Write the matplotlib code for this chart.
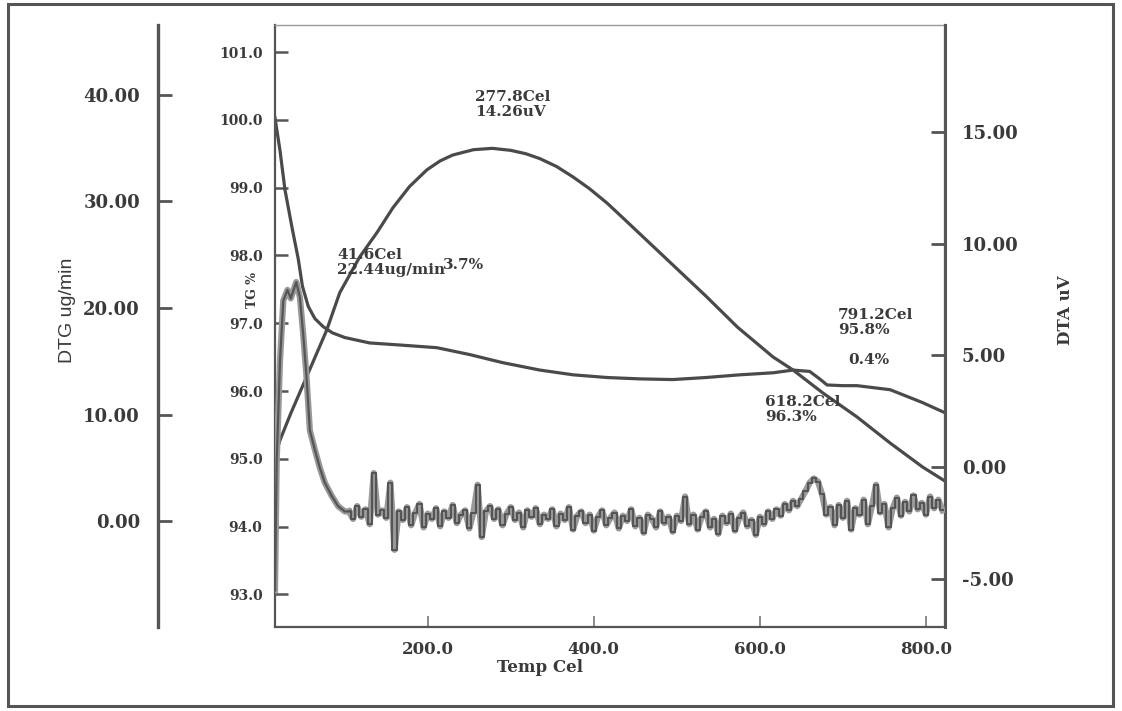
import numpy as np
import matplotlib
matplotlib.use("Agg")
import matplotlib.pyplot as plt
from matplotlib.patches import Rectangle

# TG (%) vs temperature
tg_temp = [16, 22, 28, 37, 44, 49, 56, 64, 74, 85, 100, 130, 166, 211, 250, 290, 335, 375,
           416, 455, 495, 535, 576, 616, 640, 660, 672, 681, 700, 717, 757, 796, 823]
tg = [100.03, 99.55, 98.97, 98.38, 97.95, 97.55, 97.25, 97.07, 96.95, 96.86, 96.79, 96.71,
      96.68, 96.64, 96.54, 96.42, 96.31, 96.24, 96.20, 96.18, 96.17, 96.20, 96.24, 96.27,
      96.31, 96.29, 96.18, 96.09, 96.08, 96.08, 96.02, 95.83, 95.68]

# DTA (uV)
dta_temp = [16, 22, 35, 49, 78, 94, 118, 139, 158, 178, 199, 215, 230, 255, 277.8, 300, 318,
            335, 355, 375, 395, 416, 435, 455, 495, 535, 573, 616, 640, 676, 717, 757, 796, 823]
dta = [0.5, 1.2, 2.4, 3.6, 6.1, 7.8, 9.4, 10.5, 11.6, 12.55, 13.3, 13.7, 13.96, 14.2, 14.26,
       14.17, 14.02, 13.8, 13.45, 12.98, 12.45, 11.81, 11.15, 10.45, 9.05, 7.65, 6.26, 4.92,
       4.34, 3.31, 2.24, 1.07, 0.0, -0.63]

# DTG (ug/min), peak part
dtg_rise_temp = [16, 18, 22, 26, 31, 35, 41.6, 46, 50, 54, 58, 64, 70, 76, 84, 92, 100, 105]
dtg_rise = [-6.5, 5.5, 15.0, 20.7, 21.7, 20.9, 22.44, 21.0, 17.5, 13.5, 8.5, 6.7, 5.0, 3.6,
            2.4, 1.4, 0.9, 0.9]

# DTG baseline, every 5 Cel from 105 to 820
dtg_base_temp = np.arange(105, 821, 5)
dtg_base = [0.9, 0.2, 1.4, 0.4, 1.1, -0.3, 4.5, 0.6, 1.0, 0.3,
            3.6, -2.7, 0.9, 0.1, 1.3, -0.4, 0.8, 1.6, -0.6, 0.7,
            0.2, 1.2, -0.5, 0.9, 0.3, 1.5, -0.2, 0.6, 1.0, -0.7,
            0.8, 3.4, -1.5, 0.9, 1.4, 0.2, 1.1, -0.4, 0.7, 1.3,
            0.1, 0.8, -0.6, 1.0, 0.4, 1.2, -0.3, 0.6, 0.2, 1.1,
            -0.5, 0.7, 0.1, 1.3, -0.8, 0.5, 0.9, -0.2, 0.6, -0.9,
            0.4, 1.0, -0.4, 0.3, 0.8, -0.7, 0.5, 0.0, 1.1, -0.5,
            0.3, -1.1, 0.6, 0.2, -0.6, 0.9, -0.2, 0.4, -1.0, 0.5,
            0.0, 2.3, -0.3, 0.6, -0.8, 0.4, 0.9, -0.6, 0.2, -1.2,
            0.5, -0.2, 0.7, -0.9, 0.3, 0.8, -0.5, 0.1, -1.3, 0.4,
            -0.3, 0.9, 0.2, 1.1, 0.5, 1.6, 1.0, 1.9, 1.4, 2.1,
            2.8, 3.6, 4.0, 3.7, 2.5, 0.6, 1.3, -0.4, 1.5, 0.3,
            1.9, -0.8, 1.2, 0.6, 2.0, -0.3, 1.4, 3.4, 0.8, 1.6,
            -0.6, 1.2, 2.2, 0.5, 1.8, 0.9, 2.4, 1.1, 1.7, 0.6,
            2.3, 1.2, 2.0, 1.0]

x_ticks = [200, 400, 600, 800]
x_ticklabels = ["200.0", "400.0", "600.0", "800.0"]
tg_ticks = [93, 94, 95, 96, 97, 98, 99, 100, 101]
dta_ticks = [-5, 0, 5, 10, 15]
dtg_ticks = [0, 10, 20, 30, 40]

notes = [("277.8Cel\n14.26uV", 475, 90),
         ("41.6Cel\n22.44ug/min", 337, 248),
         ("3.7%", 443, 258),
         ("791.2Cel\n95.8%", 838, 308),
         ("0.4%", 848, 353),
         ("618.2Cel\n96.3%", 765, 395)]

W, H = 1122, 711
line_c = "#4a4a4a"
text_c = "#3a3a3a"
serif = "DejaVu Serif"

fig = plt.figure(figsize=(W / 100, H / 100), dpi=100)
fig.patch.set_facecolor("white")

# outer frame
fig.add_artist(Rectangle((8 / W, 1 - 706 / H), 1105 / W, 702 / H, transform=fig.transFigure,
                         fill=False, edgecolor="#555555", lw=2.2))

ax = fig.add_axes([275 / W, 1 - 627 / H, 670 / W, 602 / H])
ax2 = ax.twinx()
ax3 = ax.twinx()

ax.set_xlim(16, 823)
ax.set_ylim(92.52, 101.40)
ax2.set_ylim(-7.16, 19.78)
ax3.set_ylim(-9.95, 46.57)

# curves: DTG drawn as a grey band with darker noisy trace on top
ax3.plot(dtg_rise_temp, dtg_rise, color="#999999", lw=4.5)
ax3.plot(dtg_base_temp, dtg_base, color="#9a9a9a", lw=4.5)
ax3.plot(dtg_rise_temp, dtg_rise, color="#555555", lw=1.6)
ax3.plot(dtg_base_temp, dtg_base, color="#555555", lw=1.5, drawstyle="steps-mid")
ax.plot(tg_temp, tg, color=line_c, lw=2.3)
ax2.plot(dta_temp, dta, color=line_c, lw=2.3)

# spines
for s in ax.spines.values():
    s.set_color("#555555")
    s.set_linewidth(1.6)
ax.spines["top"].set_linewidth(1.0)
ax.spines["top"].set_color("#9a9a9a")
for name in ["top", "bottom", "left"]:
    ax2.spines[name].set_visible(False)
ax2.spines["right"].set_color("#555555")
ax2.spines["right"].set_linewidth(2.2)
for name in ["top", "bottom", "right"]:
    ax3.spines[name].set_visible(False)
ax3.spines["left"].set_visible(True)
ax3.spines["left"].set_position(("axes", (158 - 275) / 670))
ax3.spines["left"].set_color("#555555")
ax3.spines["left"].set_linewidth(2.4)
ax3.yaxis.set_ticks_position("left")
ax3.yaxis.set_label_position("left")

# ticks
ax.set_xticks(x_ticks)
ax.set_xticklabels(x_ticklabels)
ax.tick_params(axis="x", direction="in", length=8, width=1.2, color="#777777", pad=10,
               labelsize=12, labelcolor=text_c, top=False)
ax.set_yticks(tg_ticks)
ax.set_yticklabels([f"{v:.1f}" for v in tg_ticks])
ax.tick_params(axis="y", direction="in", length=9, width=1.8, color="#555555", pad=9,
               labelsize=10, labelcolor=text_c, right=False)
ax2.set_yticks(dta_ticks)
ax2.set_yticklabels([f"{v:.2f}" for v in dta_ticks])
ax2.tick_params(axis="y", direction="in", length=10, width=2.0, color="#555555", pad=12,
                labelsize=13, labelcolor=text_c)
ax3.set_yticks(dtg_ticks)
ax3.set_yticklabels([f"{v:.2f}" for v in dtg_ticks])
ax3.tick_params(axis="y", direction="in", length=10, width=2.0, color="#555555", pad=13,
                labelsize=13, labelcolor=text_c)

for a in (ax, ax2, ax3):
    for lab in a.get_xticklabels() + a.get_yticklabels():
        lab.set_fontfamily(serif)
        lab.set_fontweight("bold")

# axis labels
fig.text(540 / W, 1 - 668 / H, "Temp Cel", ha="center", va="center", fontsize=12,
         fontfamily=serif, fontweight="bold", color=text_c)
fig.text(1065 / W, 1 - 310 / H, "DTA uV", ha="center", va="center", rotation=90,
         fontsize=12, fontfamily=serif, fontweight="bold", color=text_c)
fig.text(68 / W, 1 - 310 / H, "DTG ug/min", ha="center", va="center", rotation=90,
         fontsize=14, fontfamily="Liberation Sans", color=text_c)
fig.text(253 / W, 1 - 290 / H, "TG %", ha="center", va="center", rotation=90,
         fontsize=9, fontfamily=serif, fontweight="bold", color=text_c)

# peak / step annotations
for txt, px, py in notes:
    fig.text(px / W, 1 - py / H, txt, ha="left", va="top", fontsize=11, linespacing=1.05,
             fontfamily=serif, fontweight="bold", color=text_c)

fig.savefig("out.png", dpi=100)
